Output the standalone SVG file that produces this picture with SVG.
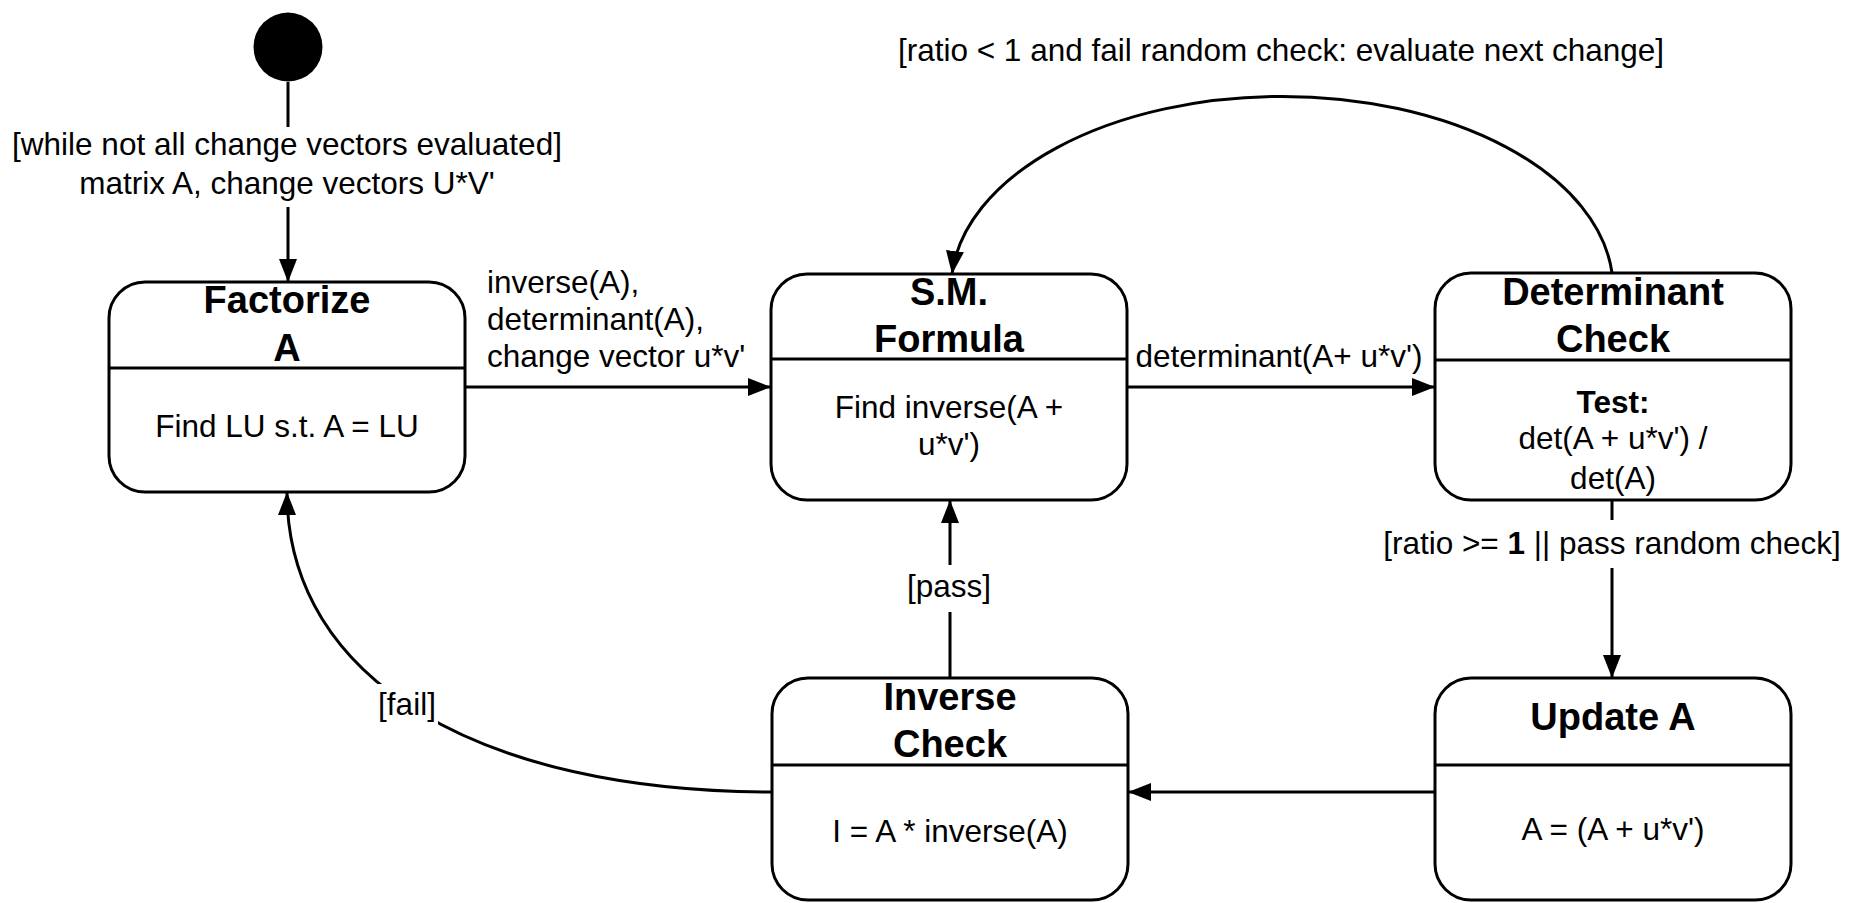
<svg xmlns="http://www.w3.org/2000/svg" width="1851" height="903" viewBox="0 0 1851 903">
  <style>
    .box { fill: #ffffff; stroke: #000000; stroke-width: 3; }
    .div { stroke: #000000; stroke-width: 3; }
    .edge { fill: none; stroke: #000000; stroke-width: 3; }
    .title { font-family: "Liberation Sans", Arial, sans-serif; font-size: 38px; font-weight: bold; text-anchor: middle; fill: #000000; }
    .body { font-family: "Liberation Sans", Arial, sans-serif; font-size: 31.5px; text-anchor: middle; fill: #000000; }
    .lbl { font-family: "Liberation Sans", Arial, sans-serif; font-size: 31.5px; fill: #000000; }
    .mid { text-anchor: middle; }
  </style>
  <defs>
    <marker id="arrow" markerUnits="userSpaceOnUse" markerWidth="23" markerHeight="18" refX="23" refY="9" orient="auto">
      <path d="M0,0 L23,9 L0,18 z" fill="#000000"/>
    </marker>
  </defs>
  <rect width="1851" height="903" fill="#ffffff"/>

  <!-- transitions -->
  <g id="connectors">
    <!-- initial pseudo-state to Factorize A -->
    <line class="edge" x1="288" y1="82" x2="288" y2="127"/>
    <line class="edge" x1="288" y1="207" x2="288" y2="282" marker-end="url(#arrow)"/>
    <text class="lbl mid" x="287" y="155">[while not all change vectors evaluated]</text>
    <text class="lbl mid" x="287" y="194">matrix A, change vectors U*V'</text>

    <!-- Factorize A to S.M. Formula -->
    <line class="edge" x1="465" y1="387" x2="771" y2="387" marker-end="url(#arrow)"/>
    <text class="lbl" x="487" y="293">inverse(A),</text>
    <text class="lbl" x="487" y="330">determinant(A),</text>
    <text class="lbl" x="487" y="367">change vector u*v'</text>

    <!-- S.M. Formula to Determinant Check -->
    <line class="edge" x1="1127" y1="387" x2="1435" y2="387" marker-end="url(#arrow)"/>
    <text class="lbl mid" x="1279" y="367">determinant(A+ u*v')</text>

    <!-- Determinant Check back to S.M. Formula -->
    <path class="edge" d="M1612,273 A331,192 0 0 0 952,274" marker-end="url(#arrow)"/>
    <text class="lbl mid" x="1281" y="61">[ratio &lt; 1 and fail random check: evaluate next change]</text>

    <!-- Determinant Check to Update A -->
    <line class="edge" x1="1612" y1="500" x2="1612" y2="520"/>
    <line class="edge" x1="1612" y1="568" x2="1612" y2="678" marker-end="url(#arrow)"/>
    <text class="lbl mid" x="1612" y="554">[ratio &gt;= <tspan font-weight="bold">1</tspan> || pass random check]</text>

    <!-- Update A to Inverse Check -->
    <line class="edge" x1="1435" y1="792" x2="1128" y2="792" marker-end="url(#arrow)"/>

    <!-- Inverse Check to S.M. Formula -->
    <line class="edge" x1="950" y1="678" x2="950" y2="612"/>
    <line class="edge" x1="950" y1="565" x2="950" y2="500" marker-end="url(#arrow)"/>
    <text class="lbl mid" x="949" y="597">[pass]</text>

    <!-- Inverse Check back to Factorize A -->
    <path class="edge" d="M772,792 C480,792 287,680 287,492" marker-end="url(#arrow)"/>
    <rect x="376" y="684" width="62" height="42" fill="#ffffff"/>
    <text class="lbl mid" x="407" y="715">[fail]</text>
  </g>

  <!-- initial pseudo-state -->
  <g id="start">
    <circle cx="288" cy="47" r="34.5" fill="#000000"/>
  </g>

  <g id="factorize">
    <rect class="box" x="109" y="282" width="356" height="210" rx="36" ry="36"/>
    <line class="div" x1="109" y1="368" x2="465" y2="368"/>
    <text class="title" x="287" y="313">Factorize</text>
    <text class="title" x="287" y="361">A</text>
    <text class="body" x="287" y="437">Find LU s.t. A = LU</text>
  </g>

  <g id="sm-formula">
    <rect class="box" x="771" y="274" width="356" height="226" rx="36" ry="36"/>
    <line class="div" x1="771" y1="359" x2="1127" y2="359"/>
    <text class="title" x="949" y="305">S.M.</text>
    <text class="title" x="949" y="352">Formula</text>
    <text class="body" x="949" y="418">Find inverse(A +</text>
    <text class="body" x="949" y="455">u*v')</text>
  </g>

  <g id="determinant-check">
    <rect class="box" x="1435" y="273" width="356" height="227" rx="36" ry="36"/>
    <line class="div" x1="1435" y1="360" x2="1791" y2="360"/>
    <text class="title" x="1613" y="305">Determinant</text>
    <text class="title" x="1613" y="352">Check</text>
    <text class="body" x="1613" y="413" font-weight="bold" font-size="28">Test:</text>
    <text class="body" x="1613" y="449">det(A + u*v') /</text>
    <text class="body" x="1613" y="489">det(A)</text>
  </g>

  <g id="inverse-check">
    <rect class="box" x="772" y="678" width="356" height="222" rx="36" ry="36"/>
    <line class="div" x1="772" y1="765" x2="1128" y2="765"/>
    <text class="title" x="950" y="710">Inverse</text>
    <text class="title" x="950" y="757">Check</text>
    <text class="body" x="950" y="842">I = A * inverse(A)</text>
  </g>

  <g id="update-a">
    <rect class="box" x="1435" y="678" width="356" height="222" rx="36" ry="36"/>
    <line class="div" x1="1435" y1="765" x2="1791" y2="765"/>
    <text class="title" x="1613" y="730">Update A</text>
    <text class="body" x="1613" y="840">A = (A + u*v')</text>
  </g>
</svg>
